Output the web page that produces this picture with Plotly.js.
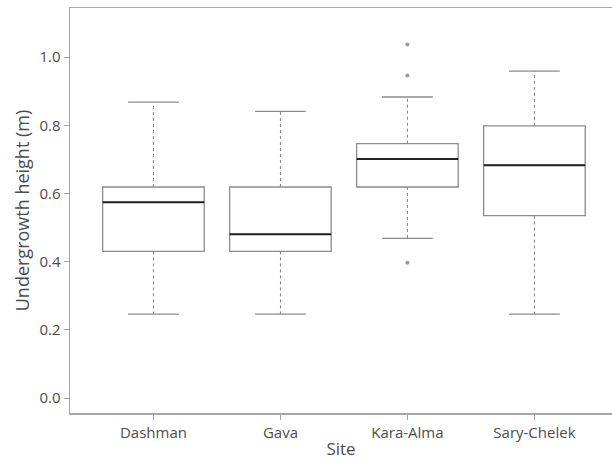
<!DOCTYPE html>
<html>
<head>
<meta charset="utf-8">
<script src="https://cdn.plot.ly/plotly-3.0.1.min.js"></script>
<style>html,body{margin:0;padding:0;background:#fff;}#chart{width:612px;height:460px;}</style>
</head>
<body>
<div id="chart"></div>
<script>
// Data
var sites = ["Dashman", "Gava", "Kara-Alma", "Sary-Chelek"];
var lowerWhisker = [0.246, 0.246, 0.468, 0.246];
var q1Values = [0.430, 0.430, 0.619, 0.535];
var medianValues = [0.574, 0.480, 0.701, 0.683];
var q3Values = [0.619, 0.619, 0.746, 0.798];
var upperWhisker = [0.868, 0.841, 0.883, 0.959];
var outlierSite = ["Kara-Alma", "Kara-Alma", "Kara-Alma"];
var outlierValues = [1.037, 0.946, 0.397];
var yTicks = [0.0, 0.2, 0.4, 0.6, 0.8, 1.0];

var pos = sites.map(function (s, i) { return i; });
var boxHalf = 0.4, capHalf = 0.2;
var boxColor = "#8c8c8c", axisColor = "#a6a6a6", textColor = "#4d4d4d";

var boxTrace = {
  type: "box",
  x: pos,
  q1: q1Values,
  median: medianValues,
  q3: q3Values,
  lowerfence: q1Values,
  upperfence: q3Values,
  width: boxHalf * 2,
  whiskerwidth: 0,
  boxpoints: false,
  fillcolor: "rgba(255,255,255,1)",
  line: { color: boxColor, width: 1.3 },
  hoverinfo: "skip",
  showlegend: false
};

function seg(fn) {
  var xs = [], ys = [];
  pos.forEach(function (p, i) {
    var s = fn(p, i);
    xs.push(s[0], s[1], null);
    ys.push(s[2], s[3], null);
  });
  return { x: xs, y: ys };
}

var up = seg(function (p, i) { return [p, p, q3Values[i], upperWhisker[i]]; });
var lo = seg(function (p, i) { return [p, p, q1Values[i], lowerWhisker[i]]; });
var capU = seg(function (p, i) { return [p - capHalf, p + capHalf, upperWhisker[i], upperWhisker[i]]; });
var capL = seg(function (p, i) { return [p - capHalf, p + capHalf, lowerWhisker[i], lowerWhisker[i]]; });
var med = seg(function (p, i) { return [p - boxHalf, p + boxHalf, medianValues[i], medianValues[i]]; });

function lineTrace(d, color, width, dash) {
  return { type: "scatter", mode: "lines", x: d.x, y: d.y, connectgaps: false,
    line: { color: color, width: width, dash: dash || "solid" }, hoverinfo: "skip", showlegend: false };
}

var outTrace = {
  type: "scatter", mode: "markers",
  x: outlierSite.map(function (s) { return sites.indexOf(s); }),
  y: outlierValues,
  marker: { size: 4, color: "#9a9a9a" },
  hoverinfo: "skip", showlegend: false
};

var data = [
  lineTrace(up, "#808080", 1, "dot"),
  lineTrace(lo, "#808080", 1, "dot"),
  boxTrace,
  lineTrace(capU, boxColor, 1.3),
  lineTrace(capL, boxColor, 1.3),
  lineTrace(med, "#222222", 2),
  outTrace
];

var layout = {
  width: 612, height: 460,
  margin: { l: 70, r: 0, t: 8, b: 47 },
  paper_bgcolor: "#fff", plot_bgcolor: "#fff",
  font: { family: "Open Sans, sans-serif", color: textColor, size: 15 },
  showlegend: false,
  xaxis: {
    range: [-0.657, 3.611],
    tickvals: pos, ticktext: sites,
    showgrid: false, zeroline: false,
    showline: true, mirror: true, linecolor: axisColor, linewidth: 1.5,
    ticks: "outside", ticklen: 5, tickcolor: axisColor,
    tickfont: { size: 15, color: textColor },
    title: { text: "Site", font: { size: 17, color: textColor }, standoff: 9 }
  },
  yaxis: {
    range: [-0.044, 1.144],
    tickvals: yTicks, tickformat: ".1f",
    showgrid: false, zeroline: false,
    showline: true, linecolor: axisColor, linewidth: 1.5,
    ticks: "outside", ticklen: 5, tickcolor: axisColor,
    tickfont: { size: 15, color: textColor },
    title: { text: "Undergrowth height (m)", font: { size: 18, color: textColor }, standoff: 5 }
  }
};

Plotly.newPlot("chart", data, layout, { displayModeBar: false, staticPlot: true });
</script>
</body>
</html>
